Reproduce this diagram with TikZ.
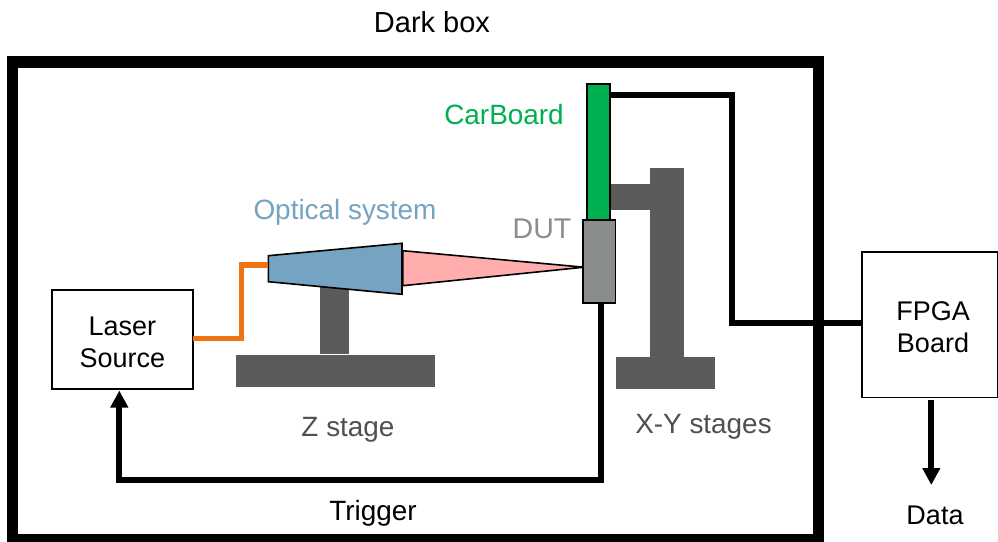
\documentclass[tikz,border=0pt]{standalone}
\usepackage{fontspec}
\setmainfont{Liberation Sans}
\usetikzlibrary{arrows.meta,calc}
\definecolor{bxGreen}{HTML}{00B050}
\definecolor{bxBlue}{HTML}{75A3C2}
\definecolor{bxPink}{HTML}{FFADAD}
\definecolor{bxGrey}{HTML}{8A8D8D}
\definecolor{bxStage}{HTML}{5B5B5B}
\definecolor{bxStageText}{HTML}{505050}
\definecolor{bxOrange}{HTML}{EE7313}
\tikzset{
  lbl/.style={font=\fontsize{27}{32}\selectfont, align=center, inner sep=0pt},
  lblb/.style={lbl, font=\fontsize{27.9}{32}\selectfont},
  unit/.style={lbl, draw=black, line width=1.6pt, outer sep=0pt, fill=white},
  part/.style={draw=black, line width=1.6pt, outer sep=0pt, inner sep=0pt},
  stage/.style={fill=bxStage},
  wire/.style={draw=black, line width=5.8pt},
  arr/.style={wire, -{Triangle[length=17pt,width=17pt]}},
}
\begin{document}
\begin{tikzpicture}[x=1pt,y=-1pt]
  \useasboundingbox (0,0) rectangle (998,541);
  \fill[white] (0,0) rectangle (998,541);
  % dark box
  \begin{scope}
    \clip (0,0) rectangle (998,541);
    \draw[line width=11.5pt] (12.5,62) rectangle (818.5,540);
  \end{scope}
  \node[lbl, font=\fontsize{29}{32}\selectfont] (darkbox) at (432,22) {Dark box};
  % stages
  \fill[stage] (235.7,355.3) rectangle (434.7,387.3);
  \fill[stage] (320,285) rectangle (348.7,354.3);
  \fill[stage] (616,357) rectangle (715,389);
  \fill[stage] (650,168) rectangle (684,357);
  \fill[stage] (605,183.7) rectangle (650,210);
  \node[lblb, text=bxStageText] (zstage) at (348,430) {Z stage};
  \node[lblb, text=bxStageText] (xystage) at (703.5,427) {X-Y stages};
  % laser path
  \fill[bxPink, draw=black, line width=1.6pt] (402.7,250.7) -- (584,267.2) -- (402.7,285.7) -- cycle;
  \draw[part, fill=bxBlue] (268.3,255.7) -- (402,243.3) -- (402,294.3) -- (268.3,281.7) -- cycle;
  \coordinate (lensin) at (268.3,265);
  \node[lblb, text=bxBlue] (optics) at (345,212) {Optical system};
  % boards
  \node[part, fill=bxGreen, minimum width=23pt, minimum height=136.3pt] (carboard) at (598.2,151.9) {};
  \node[part, fill=bxGrey, minimum width=32.3pt, minimum height=82.7pt] (dut) at (599.2,261.4) {};
  \node[lblb, text=bxGreen] (carlabel) at (504,115) {CarBoard};
  \node[lblb, text=bxGrey, font=\fontsize{28.5}{32}\selectfont] (dutlabel) at (542,229) {DUT};
  \node[unit, minimum width=141.3pt, minimum height=99pt] (laser) at (122.4,339.5) {};
  \node[lbl] (laserlabel) at (122.4,342.5) {Laser\\Source};
  \node[unit, minimum width=135.5pt, minimum height=145.3pt] (fpga) at (929.8,324.7) {};
  \node[lbl] (fpgalabel) at (933,327) {FPGA\\Board};
  % connectors
  \coordinate (trigout) at (dut.south -| 600.7,0);
  \coordinate (carout) at (carboard.east |- 0,95);
  \coordinate (fpgain) at (fpga.west |- 0,323);
  \draw[bxOrange, line width=5.5pt] (laser.east |- 0,338.7) -| (241.3,265) -- (lensin);
  \draw[wire] (carout) -- (732.3,95) -- (732.3,323) -- (fpgain);
  \draw[arr, shorten >=1.5pt] (trigout) -- (600.7,480) -- (119.3,480) -- (laser.south -| 119.3,0);
  \coordinate (dataout) at (931.3,400);
  \node[lbl] (data) at (935,515) {Data};
  \draw[arr] (dataout) -- (931.3,485);
  \node[lblb] (trigger) at (373,513) {Trigger};
\end{tikzpicture}
\end{document}
